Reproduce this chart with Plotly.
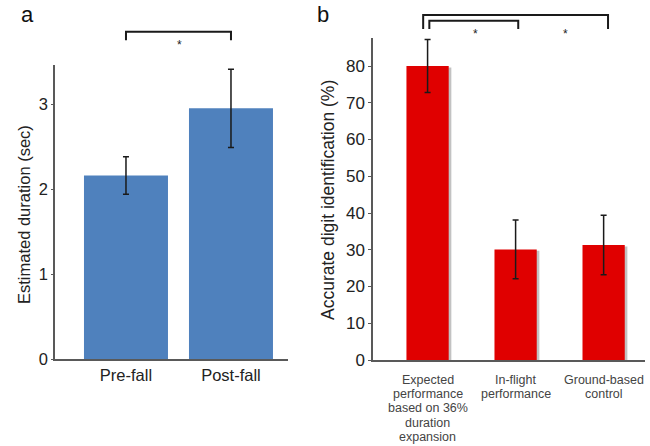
import plotly.graph_objects as go

# ---- data ----
a_categories = ["Pre-fall", "Post-fall"]
a_values = [2.16, 2.95]
a_errors = [0.22, 0.46]

b_categories = [
    ["Expected", "performance", "based on 36%", "duration", "expansion"],
    ["In-flight", "performance"],
    ["Ground-based", "control"],
]
b_values = [80.0, 30.1, 31.3]
b_errors = [7.2, 8.0, 8.1]

a_yticks = [0, 1, 2, 3]
b_yticks = [0, 10, 20, 30, 40, 50, 60, 70, 80]

W, H = 650, 446
FONT = "Liberation Sans, Arial, sans-serif"

# axis geometry (paper fractions)
a_xdom = [55 / W, 288 / W]
a_ydom = [(H - 359) / H, (H - 65) / H]
a_xrange = [-0.676, 1.543]
a_yrange = [0, 3.46]

b_xdom = [373 / W, 645 / W]
b_yrange = [0, 87.6]
b_ydom = [(H - 360) / H, (H - 360 + b_yrange[1] * 3.675) / H]
b_xrange = [-0.62, 2.47]


def to_paper(v, rng, dom):
    return dom[0] + (v - rng[0]) / (rng[1] - rng[0]) * (dom[1] - dom[0])


fig = go.Figure()

fig.add_trace(go.Bar(
    x=[0, 1], y=a_values, width=0.8,
    marker=dict(color="#4f81bd", line=dict(width=0)),
    error_y=dict(type="data", array=a_errors, color="#1a1a1a", thickness=1.5, width=3),
    xaxis="x", yaxis="y", showlegend=False, cliponaxis=False,
))

# subtle shadow for panel b bars
fig.add_trace(go.Bar(
    x=[i + 0.03 for i in range(3)], y=[v - 0.4 for v in b_values], width=0.48,
    marker=dict(color="rgba(120,120,120,0.45)", line=dict(width=0)),
    xaxis="x2", yaxis="y2", showlegend=False, hoverinfo="skip",
))
fig.add_trace(go.Bar(
    x=[0, 1, 2], y=b_values, width=0.48,
    marker=dict(color="#e00000", line=dict(width=0)),
    error_y=dict(type="data", array=b_errors, color="#1a1a1a", thickness=1.5, width=3),
    xaxis="x2", yaxis="y2", showlegend=False, cliponaxis=False,
))

axis_line = dict(showline=True, linecolor="#595959", linewidth=1.5, showgrid=False,
                 zeroline=False, automargin=False)

fig.update_layout(
    width=W, height=H,
    margin=dict(l=0, r=0, t=0, b=0),
    paper_bgcolor="white", plot_bgcolor="white",
    barmode="overlay",
    font=dict(family=FONT, color="#222222"),
    xaxis=dict(
        domain=a_xdom, range=a_xrange, anchor="y",
        tickmode="array", tickvals=[0, 1], ticktext=a_categories,
        ticks="", tickfont=dict(size=16.5, color="#222222"), ticklabelstandoff=0,
        **axis_line,
    ),
    yaxis=dict(
        domain=a_ydom, range=a_yrange, anchor="x",
        tickmode="array", tickvals=a_yticks,
        ticks="outside", ticklen=2, tickcolor="#595959",
        tickfont=dict(size=16.5, color="#222222"), ticklabelstandoff=0,
        **axis_line,
    ),
    xaxis2=dict(
        domain=b_xdom, range=b_xrange, anchor="y2",
        tickmode="array", tickvals=[0, 1, 2], showticklabels=False,
        ticks="",
        **axis_line,
    ),
    yaxis2=dict(
        domain=b_ydom, range=b_yrange, anchor="x2",
        tickmode="array", tickvals=b_yticks,
        ticks="outside", ticklen=3, tickcolor="#595959",
        tickfont=dict(size=17, color="#222222"), ticklabelstandoff=0,
        **axis_line,
    ),
)

shapes = []
annotations = []


def bracket(x0, x1, ytop, ybot0, ybot1, xr, xd, yr, yd):
    px0, px1 = to_paper(x0, xr, xd), to_paper(x1, xr, xd)
    pt = to_paper(ytop, yr, yd)
    pb0 = to_paper(ybot0, yr, yd)
    pb1 = to_paper(ybot1, yr, yd)
    path = f"M {px0},{pb0} L {px0},{pt} L {px1},{pt} L {px1},{pb1}"
    shapes.append(dict(type="path", path=path, xref="paper", yref="paper",
                       line=dict(color="#1a1a1a", width=2)))


def star(x, y, xr, xd, yr, yd):
    annotations.append(dict(text="*", x=to_paper(x, xr, xd), y=to_paper(y, yr, yd),
                            xref="paper", yref="paper", showarrow=False,
                            font=dict(size=12, color="#222222"), xanchor="center", yanchor="middle"))


# panel a bracket
bracket(0, 1, 3.85, 3.75, 3.75, a_xrange, a_xdom, a_yrange, a_ydom)
star(0.51, 3.70, a_xrange, a_xdom, a_yrange, a_ydom)

# panel b brackets
bracket(-0.05, 2.05, 93.9, 90.1, 90.1, b_xrange, b_xdom, b_yrange, b_ydom)
bracket(0.02, 1.03, 92.3, 90.1, 90.1, b_xrange, b_xdom, b_yrange, b_ydom)
star(0.54, 88.6, b_xrange, b_xdom, b_yrange, b_ydom)
star(1.57, 88.6, b_xrange, b_xdom, b_yrange, b_ydom)

# panel b category labels, one annotation per line for tight spacing
for i, lines in enumerate(b_categories):
    for j, line in enumerate(lines):
        annotations.append(dict(text=line, x=i, xref="x2",
                                y=(H - (380 + 14.2 * j)) / H, yref="paper",
                                showarrow=False, font=dict(size=12.5, color="#444444"),
                                borderpad=0, xanchor="center", yanchor="middle"))

# y axis titles
annotations.append(dict(text="Estimated duration (sec)", x=24 / W, y=(H - 215) / H,
                        xref="paper", yref="paper", showarrow=False, textangle=-90,
                        font=dict(size=16.5, color="#222222"), xanchor="center", yanchor="middle"))
annotations.append(dict(text="Accurate digit identification (%)", x=328 / W, y=(H - 200) / H,
                        xref="paper", yref="paper", showarrow=False, textangle=-90,
                        font=dict(size=17.5, color="#222222"), xanchor="center", yanchor="middle"))

# panel labels
annotations.append(dict(text="a", x=27 / W, y=(H - 15) / H, xref="paper", yref="paper",
                        showarrow=False, font=dict(size=22, color="#111111"),
                        xanchor="center", yanchor="middle"))
annotations.append(dict(text="b", x=323 / W, y=(H - 15) / H, xref="paper", yref="paper",
                        showarrow=False, font=dict(size=22, color="#111111"),
                        xanchor="center", yanchor="middle"))

fig.update_layout(shapes=shapes, annotations=annotations)

fig.write_html(
    "out.html",
    config={"displayModeBar": False},
    post_script="document.body.style.margin='0';document.body.style.overflow='hidden';",
)
